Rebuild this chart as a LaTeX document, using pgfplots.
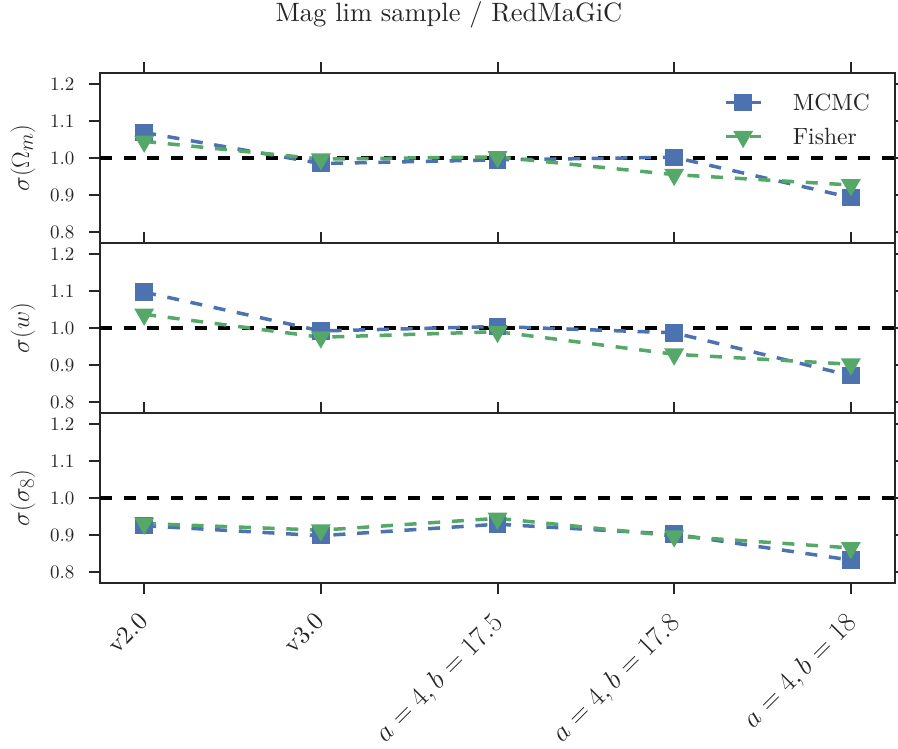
\documentclass[border=0pt]{standalone}
\usepackage{fontspec}
\setmainfont{lmroman10-regular.otf}
\usepackage{graphicx}
\usepackage{pgfplots}
\usepackage{pgfplotstable}
\pgfplotsset{compat=1.18}
\definecolor{sbblue}{RGB}{76,114,176}
\definecolor{sbgreen}{RGB}{85,168,104}
\definecolor{dk}{RGB}{38,38,38}

\pgfplotstableread{
x om_mcmc om_fisher w_mcmc w_fisher s8_mcmc s8_fisher
0 1.069 1.045 1.097 1.037 0.925 0.931
1 0.985 0.997 0.992 0.975 0.898 0.913
2 0.995 1.003 1.004 0.990 0.929 0.945
3 1.002 0.955 0.987 0.929 0.902 0.897
4 0.893 0.927 0.871 0.902 0.832 0.865
}\data

\pgfplotsset{
  panel/.style={
    scale only axis, width=795pt, height=170pt,
    xmin=-0.25, xmax=4.25, ymin=0.77, ymax=1.23,
    xtick={0,1,2,3,4},
    ytick={0.8,0.9,1.0,1.1,1.2},
    yticklabels={0.8,0.9,1.0,1.1,1.2},
    tick align=outside, major tick length=11pt,
    axis line style={dk, line width=2.5pt},
    tick style={dk, line width=2pt},
    ytick pos=both,
    ticklabel style={text=dk},
    yticklabel style={font=\fontsize{19}{23}\selectfont, xshift=-11pt},
    ylabel style={at={(axis description cs:-0.0969,0.5)}, anchor=center,
                  font=\fontsize{24.88}{30}\selectfont, text=dk},
  },
  mcmc/.style={sbblue, line width=3.5pt, dash pattern=on 12pt off 11.7pt,
    mark=square*, mark size=7pt, mark options={solid, fill=sbblue, draw=none}},
  fisher/.style={sbgreen, line width=3.5pt, dash pattern=on 12pt off 11.7pt,
    mark=triangle*, mark size=8pt, mark options={solid, rotate=180, fill=sbgreen, draw=none}},
  refline/.style={black, line width=4pt, dash pattern=on 12pt off 11.7pt, forget plot},
}

\begin{document}
\begin{tikzpicture}
% Panel 1
\begin{axis}[panel, at={(0pt,0pt)}, anchor=north west,
  xtick pos=right, xticklabels={},
  ylabel={$\sigma(\Omega_m)$},
  title={Mag lim sample / RedMaGiC},
  title style={at={(axis description cs:0.439,1.265)}, anchor=base,
               font=\fontsize{26.5}{32}\selectfont, text=dk},
  legend style={at={(axis description cs:0.975,0.903)}, anchor=north east,
    draw=none, fill=none, font=\fontsize{23.5}{28}\selectfont, text=dk,
    row sep=12pt, column sep=28pt},
  legend cell align=left,
  legend image code/.code={\draw[mark repeat=2, mark phase=2, #1]
     plot coordinates {(0pt,0pt) (17pt,0pt) (35pt,0pt)};},
]
\addplot[refline] coordinates {(-0.25,1) (4.25,1)};
\addplot[mcmc] table[x=x, y=om_mcmc] {\data};
\addlegendentry{MCMC}
\addplot[fisher] table[x=x, y=om_fisher] {\data};
\addlegendentry{Fisher}
\end{axis}
% Panel 2
\begin{axis}[panel, at={(0pt,-170pt)}, anchor=north west,
  xtick pos=right, xticklabels={},
  ylabel={$\sigma(w)$},
]
\addplot[refline] coordinates {(-0.25,1) (4.25,1)};
\addplot[mcmc] table[x=x, y=w_mcmc] {\data};
\addplot[fisher] table[x=x, y=w_fisher] {\data};
\end{axis}
% Panel 3
\begin{axis}[panel, at={(0pt,-340pt)}, anchor=north west,
  xtick pos=both,
  xticklabels={{\fontsize{25}{30}\selectfont v2.0}, {\fontsize{25}{30}\selectfont v3.0},
               {\scalebox{1.12}{$a=4, b=17.5$}}, {\scalebox{1.12}{$a=4, b=17.8$}},
               {\scalebox{1.12}{$a=4, b=18$}}},
  xticklabel style={font=\fontsize{24.88}{30}\selectfont, xshift=-7pt, yshift=-12pt,
                    rotate=45, anchor=north east},
  ylabel={$\sigma(\sigma_8)$},
]
\addplot[refline] coordinates {(-0.25,1) (4.25,1)};
\addplot[mcmc] table[x=x, y=s8_mcmc] {\data};
\addplot[fisher] table[x=x, y=s8_fisher] {\data};
\end{axis}
\pgfresetboundingbox
\path (-100pt,73pt) rectangle (798pt,-676pt);
\end{tikzpicture}
\end{document}
